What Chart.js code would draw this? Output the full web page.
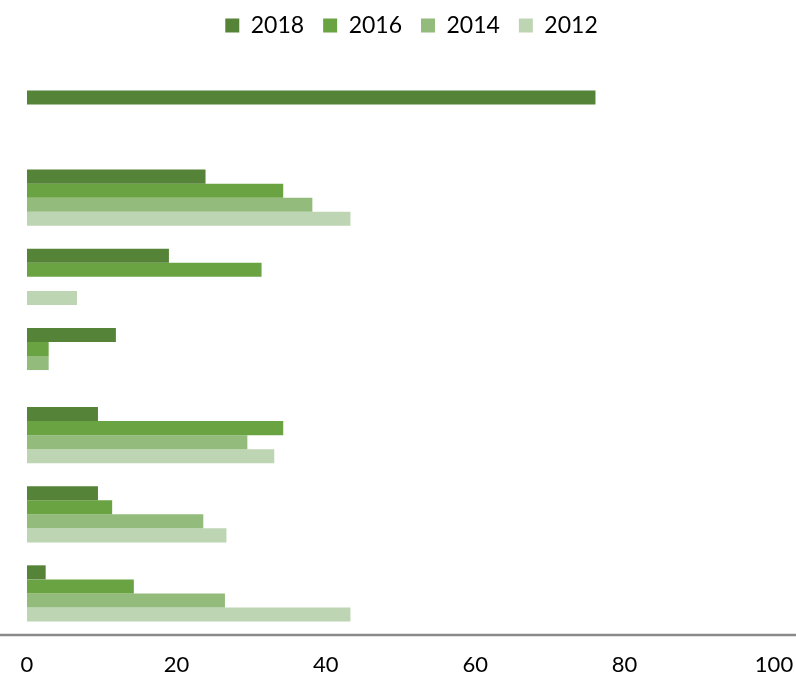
<!DOCTYPE html>
<html>
<head>
<meta charset="utf-8">
<script src="https://cdn.jsdelivr.net/npm/chart.js@4"></script>
<style>
  html, body { margin: 0; padding: 0; background: #fff; }
  #wrap { width: 796px; height: 678px; }
</style>
</head>
<body>
<div id="wrap"><canvas id="barChart"></canvas></div>
<script>
// data (category labels are not shown in the chart)
var categories = ['1', '2', '3', '4', '5', '6', '7'];
var years = ['2018', '2016', '2014', '2012'];
var values2018 = [76.1, 23.9, 19.0, 11.9, 9.5, 9.5, 2.5];
var values2016 = [null, 34.3, 31.4, 2.9, 34.3, 11.4, 14.3];
var values2014 = [null, 38.2, null, 2.9, 29.5, 23.6, 26.5];
var values2012 = [null, 43.3, 6.7, null, 33.1, 26.7, 43.3];
var xTicks = [0, 20, 40, 60, 80, 100];

var colors = ['#558337', '#6aa342', '#93bb7c', '#bed5b3'];

document.addEventListener("DOMContentLoaded", function() {
    // full-width axis line under the bars
    var axisLine = {
        id: 'axisLine',
        afterDraw: function(chart) {
            var c = chart.ctx;
            var y = chart.chartArea.bottom + 2;
            c.save();
            c.strokeStyle = '#8a8a8a';
            c.lineWidth = 2.5;
            c.beginPath();
            c.moveTo(0, y);
            c.lineTo(chart.width, y);
            c.stroke();
            c.restore();
        }
    };

    // extra room between legend and bars, legend nudged right
    var legendGap = {
        id: 'legendGap',
        beforeInit: function(chart) {
            var fit = chart.legend.fit;
            chart.legend.fit = function() {
                fit.bind(chart.legend)();
                this.height += 32;
            };
        },
        afterLayout: function(chart) {
            chart.legend.left += 11;
            chart.legend.right += 11;
        }
    };

    var ctx = document.getElementById('barChart').getContext('2d');
    var barChart = new Chart(ctx, {
        type: 'bar',
        data: {
            labels: categories,
            datasets: [
                { label: years[0], data: values2018, backgroundColor: colors[0] },
                { label: years[1], data: values2016, backgroundColor: colors[1] },
                { label: years[2], data: values2014, backgroundColor: colors[2] },
                { label: years[3], data: values2012, backgroundColor: colors[3] }
            ]
        },
        options: {
            indexAxis: 'y',
            responsive: true,
            maintainAspectRatio: false,
            animation: false,
            datasets: {
                bar: {
                    categoryPercentage: 0.71,
                    barPercentage: 1.0,
                    skipNull: false
                }
            },
            layout: {
                padding: { left: 27, right: 22, top: -5, bottom: 0 }
            },
            scales: {
                x: {
                    min: 0,
                    max: 100,
                    afterBuildTicks: function(axis) {
                        axis.ticks = xTicks.map(function(v) { return { value: v }; });
                    },
                    afterFit: function(axis) {
                        axis.height = 45;
                        axis.paddingLeft = 0;
                        axis.paddingRight = 0;
                    },
                    grid: { display: false },
                    border: { display: false },
                    ticks: {
                        color: '#000',
                        padding: 11,
                        font: { family: 'Lato', size: 22 }
                    }
                },
                y: {
                    display: false
                }
            },
            plugins: {
                legend: {
                    position: 'top',
                    labels: {
                        color: '#000',
                        boxWidth: 14,
                        boxHeight: 14,
                        padding: 19,
                        font: { family: 'Lato', size: 23 }
                    }
                },
                tooltip: { enabled: false }
            }
        },
        plugins: [axisLine, legendGap]
    });
});
</script>
</body>
</html>
